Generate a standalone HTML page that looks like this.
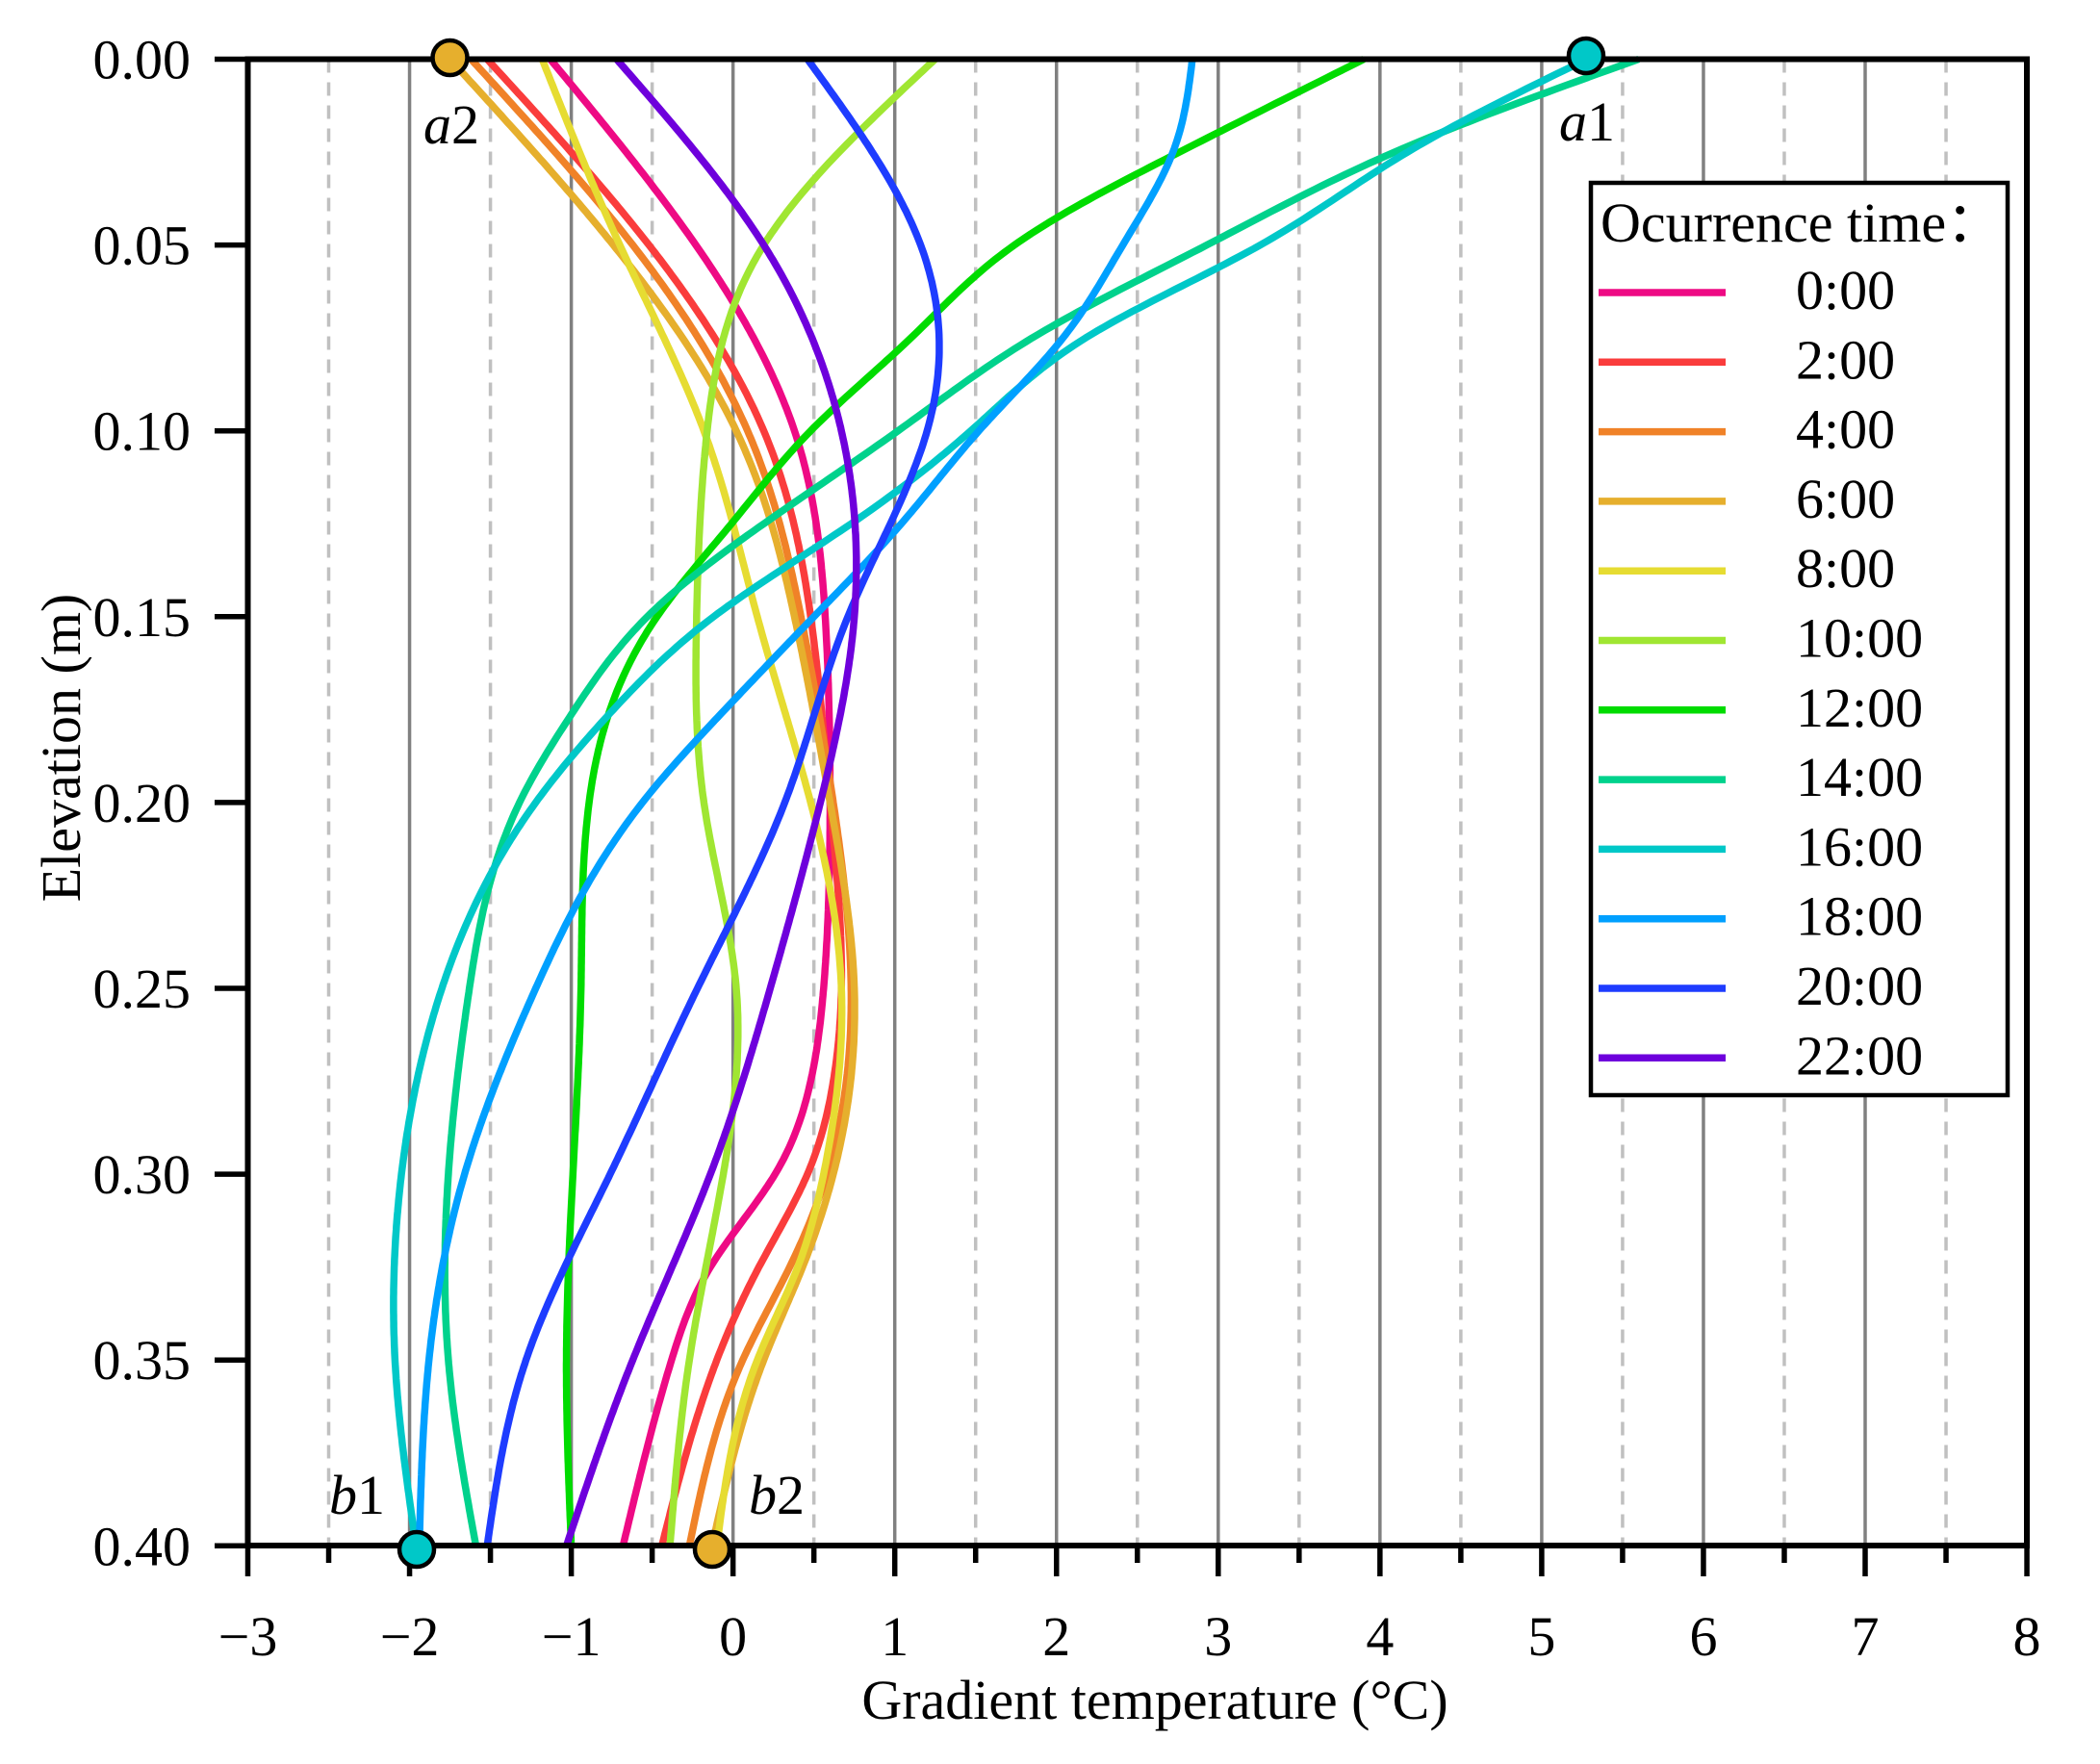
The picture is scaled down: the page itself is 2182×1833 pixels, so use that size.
<!DOCTYPE html>
<html><head><meta charset="utf-8"><style>
html,body{margin:0;padding:0;background:#fff;}
svg{display:block;}
text{font-family:"Liberation Serif","DejaVu Serif",serif;fill:#000;}
</style></head><body>
<svg id="s" width="2182" height="1833" viewBox="0 0 2182 1833" xmlns="http://www.w3.org/2000/svg">
<g id="grid"></g>
<g id="curves" fill="none" stroke-width="7.5" stroke-linecap="butt" stroke-linejoin="round"></g>
<rect x="257.5" y="61.5" width="1848.5" height="1544.5" fill="none" stroke="#000" stroke-width="6"/>
<g id="ticks"></g>
<g id="legend"></g>
<g stroke="#000" stroke-width="4.5">
<circle cx="467.5" cy="60" r="18" fill="#e6af2d"/>
<circle cx="1648" cy="58" r="18" fill="#00c8c8"/>
<circle cx="433" cy="1610" r="18" fill="#00c8c8"/>
<circle cx="740" cy="1610" r="18" fill="#e6af2d"/>
</g>
<text x="440" y="149" font-size="58"><tspan font-style="italic">a</tspan>2</text>
<text x="1620" y="146" font-size="58"><tspan font-style="italic">a</tspan>1</text>
<text x="342" y="1573" font-size="58"><tspan font-style="italic">b</tspan>1</text>
<text x="778" y="1573" font-size="58"><tspan font-style="italic">b</tspan>2</text>
<text x="1200" y="1786" font-size="58" text-anchor="middle">Gradient temperature (°C)</text>
<text transform="translate(83,777) rotate(-90)" font-size="58" text-anchor="middle">Elevation (m)</text>
</svg>
<script>
const NS="http://www.w3.org/2000/svg";
const X=v=>257.5+(v+3)*168.05, Y=e=>61.5+e/0.05*193.1;
function el(p,t,a,txt){const e=document.createElementNS(NS,t);for(const k in a)e.setAttribute(k,a[k]);if(txt!=null)e.textContent=txt;document.getElementById(p).appendChild(e);return e;}
for(let v=-2.5;v<8;v+=0.5){const x=X(v);if(Number.isInteger(v))el("grid","line",{x1:x,x2:x,y1:61.5,y2:1606,stroke:"#808080","stroke-width":3.5});else el("grid","line",{x1:x,x2:x,y1:61.5,y2:1606,stroke:"#c0c0c0","stroke-width":3.5,"stroke-dasharray":"14 10"});}
for(let v=-3;v<=8;v+=0.5){const x=X(v);const maj=Number.isInteger(v);el("ticks","line",{x1:x,x2:x,y1:1606,y2:maj?1638:1624,stroke:"#000","stroke-width":5.5});
 if(maj)el("ticks","text",{x:x,y:1720,"font-size":58,"text-anchor":"middle"},v<0?"\u2212"+(-v):String(v));}
for(let i=0;i<=8;i++){const y=Y(i*0.05);el("ticks","line",{x1:223,x2:257,y1:y,y2:y,stroke:"#000","stroke-width":5.5});
 el("ticks","text",{x:198,y:y+20,"font-size":58,"text-anchor":"end"},(i*0.05).toFixed(2));}
const E=[0,0.05,0.1,0.15,0.2,0.25,0.3,0.35,0.4];
const S=[
["0:00","#ee0a84",[[0,-1.13],[0.05,-0.23],[0.1,0.38],[0.15,0.57],[0.2,0.60],[0.25,0.56],[0.275,0.48],[0.3,0.26],[0.325,-0.14],[0.35,-0.38],[0.4,-0.68]]],
["2:00","#fa3c3c",[[0,-1.52],[0.05,-0.52],[0.1,0.19],[0.15,0.48],[0.2,0.60],[0.25,0.67],[0.275,0.62],[0.3,0.46],[0.325,0.16],[0.35,-0.10],[0.4,-0.44]]],
["4:00","#f08228",[[0,-1.62],[0.05,-0.62],[0.1,0.09],[0.15,0.42],[0.2,0.62],[0.25,0.73],[0.3,0.58],[0.325,0.35],[0.35,0.06],[0.4,-0.27]]],
["6:00","#e6af2d",[[0,-1.75],[0.05,-0.74],[0.1,0.02],[0.15,0.38],[0.2,0.60],[0.25,0.75],[0.3,0.62],[0.325,0.43],[0.35,0.19],[0.4,-0.13]]],
["8:00","#e6dc32",[[0,-1.18],[0.05,-0.70],[0.1,-0.18],[0.15,0.15],[0.2,0.48],[0.25,0.67],[0.3,0.56],[0.325,0.40],[0.35,0.15],[0.4,-0.10]]],
["10:00","#a0e632",[1.25,0.19,-0.16,-0.225,-0.18,0.02,-0.06,-0.27,-0.39]],
["12:00","#00dc00",[[0,3.90],[0.025,2.76],[0.05,1.74],[0.075,1.10],[0.1,0.48],[0.125,-0.01],[0.15,-0.47],[0.2,-0.89],[0.25,-0.94],[0.3,-0.99],[0.35,-1.03],[0.4,-1.0]]],
["14:00","#00d28c",[[0,5.60],[0.025,4.09],[0.05,2.93],[0.075,1.85],[0.1,1.02],[0.125,0.19],[0.15,-0.53],[0.175,-0.98],[0.2,-1.32],[0.25,-1.63],[0.3,-1.76],[0.35,-1.76],[0.4,-1.59]]],
["16:00","#00c8c8",[[0,5.28],[0.025,4.17],[0.05,3.26],[0.075,2.18],[0.1,1.47],[0.125,0.73],[0.15,-0.12],[0.175,-0.74],[0.2,-1.22],[0.25,-1.80],[0.3,-2.05],[0.35,-2.09],[0.4,-1.96]]],
["18:00","#00a0ff",[[0,2.84],[0.025,2.72],[0.05,2.41],[0.075,2.04],[0.1,1.52],[0.125,1.04],[0.15,0.50],[0.175,-0.05],[0.2,-0.56],[0.25,-1.22],[0.3,-1.66],[0.35,-1.88],[0.4,-1.94]]],
["20:00","#1e3cff",[0.46,1.16,1.20,0.71,0.32,-0.22,-0.76,-1.28,-1.52]],
["22:00","#6e00dc",[-0.72,0.19,0.67,0.75,0.54,0.23,-0.14,-0.62,-1.03]]
];
function spline(xs,ys){const n=xs.length,h=[],al=[],l=[1],mu=[0],z=[0],c=new Array(n).fill(0),b=[],d=[];
 for(let i=0;i<n-1;i++)h[i]=xs[i+1]-xs[i];
 for(let i=1;i<n-1;i++)al[i]=3/h[i]*(ys[i+1]-ys[i])-3/h[i-1]*(ys[i]-ys[i-1]);
 for(let i=1;i<n-1;i++){l[i]=2*(xs[i+1]-xs[i-1])-h[i-1]*mu[i-1];mu[i]=h[i]/l[i];z[i]=(al[i]-h[i-1]*z[i-1])/l[i];}
 for(let j=n-2;j>=0;j--){c[j]=z[j]-mu[j]*c[j+1];b[j]=(ys[j+1]-ys[j])/h[j]-h[j]*(c[j+1]+2*c[j])/3;d[j]=(c[j+1]-c[j])/(3*h[j]);}
 return t=>{let j=0;while(j<n-2&&t>xs[j+1])j++;const dx=t-xs[j];return ys[j]+b[j]*dx+c[j]*dx*dx+d[j]*dx*dx*dx;};}
S.forEach(([n,c,d])=>{
 let pts=(typeof d[0]==="number")?d.map((v,k)=>[E[k],v]):d;
 const f=spline(pts.map(p=>p[0]),pts.map(p=>p[1]));
 let p="";for(let k=0;k<=400;k++){const e=k*0.001;p+=(k?"L":"M")+X(f(e)).toFixed(1)+","+Y(e).toFixed(1);}
 el("curves","path",{d:p,stroke:c});
});
el("legend","rect",{x:1653,y:190,width:433,height:948,fill:"#fff",stroke:"#000","stroke-width":4.5});
el("legend","text",{x:1663,y:251,"font-size":58},"Ocurrence time：");
S.forEach(([n,c],i)=>{const b=321+i*72.3;el("legend","line",{x1:1661,x2:1793,y1:b-17,y2:b-17,stroke:c,"stroke-width":7.5});
 el("legend","text",{x:1866,y:b,"font-size":58},n);});
</script>
</body></html>
